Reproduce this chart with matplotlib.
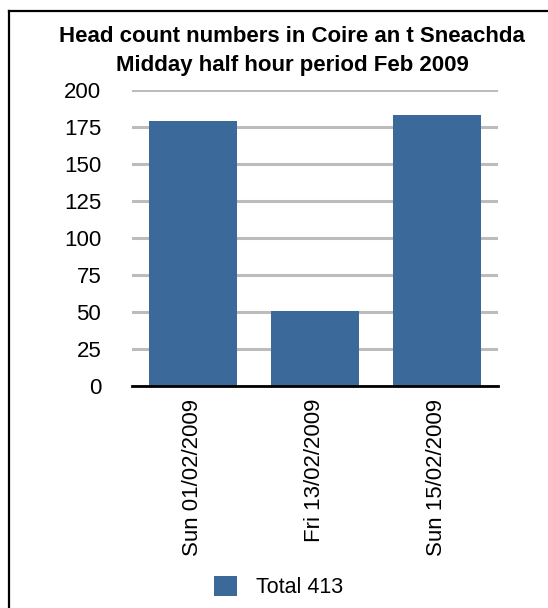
import matplotlib
matplotlib.use("Agg")
import matplotlib.pyplot as plt
from matplotlib.lines import Line2D
from matplotlib.patches import Patch
import numpy as np

dates  = ["Sun 01/02/2009", "Fri 13/02/2009", "Sun 15/02/2009"]
counts = [179, 51, 183]
yticks = [0, 25, 50, 75, 100, 125, 150, 175, 200]
title_lines = ["Head count numbers in Coire an t Sneachda",
               "Midday half hour period Feb 2009"]
legend_label = "Total 413"

bar_color  = "#3b6a9a"
grid_color = "#bcbcbc"

plt.rcParams["font.family"] = ["Liberation Sans", "DejaVu Sans"]

W, H = 548, 608
fig = plt.figure(figsize=(W / 100, H / 100), dpi=100)
fig.patch.set_facecolor("white")

ax = fig.add_axes([131.7 / W, 1 - 386 / H, 366 / W, 296 / H])
x = np.arange(len(dates))
ax.bar(x, counts, width=0.72, color=bar_color, zorder=3)

ax.set_xlim(-0.5, len(dates) - 0.5)
ax.set_ylim(0, 200)
ax.set_yticks(yticks)
ax.set_yticklabels([str(v) for v in yticks], fontsize=16)
ax.set_xticks(x)
ax.set_xticklabels(dates, rotation=90, fontsize=16, va="top")
ax.tick_params(axis="y", length=0, pad=22)
ax.tick_params(axis="x", length=0, pad=9)
ax.yaxis.grid(True, color=grid_color, linewidth=2.2, zorder=0)
ax.set_axisbelow(True)

for side in ["left", "right", "top"]:
    ax.spines[side].set_visible(False)
ax.spines["bottom"].set_linewidth(2)
ax.spines["bottom"].set_color("black")
ax.spines["bottom"].set_zorder(4)

# title, two lines
fig.text(292 / W, 1 - 42 / H, title_lines[0], ha="center", va="baseline",
         fontsize=16, fontweight="bold")
fig.text(292 / W, 1 - 71.5 / H, title_lines[1], ha="center", va="baseline",
         fontsize=16, fontweight="bold")

# legend
handle = Patch(facecolor=bar_color, edgecolor="none")
fig.legend([handle], [legend_label], loc="center left",
           bbox_to_anchor=(214 / W, 1 - 587 / H), frameon=False,
           fontsize=15.5, handlelength=1.05, handleheight=1.05,
           handletextpad=0.9, borderpad=0, borderaxespad=0)

# frame (open at right and bottom, cropped screenshot)
fig.add_artist(Line2D([9 / W, 9 / W], [0, 1 - 11 / H], color="black",
                      linewidth=1.6, transform=fig.transFigure))
fig.add_artist(Line2D([9 / W, 1], [1 - 11 / H, 1 - 11 / H], color="black",
                      linewidth=1.6, transform=fig.transFigure))

fig.savefig("out.png", dpi=100)
